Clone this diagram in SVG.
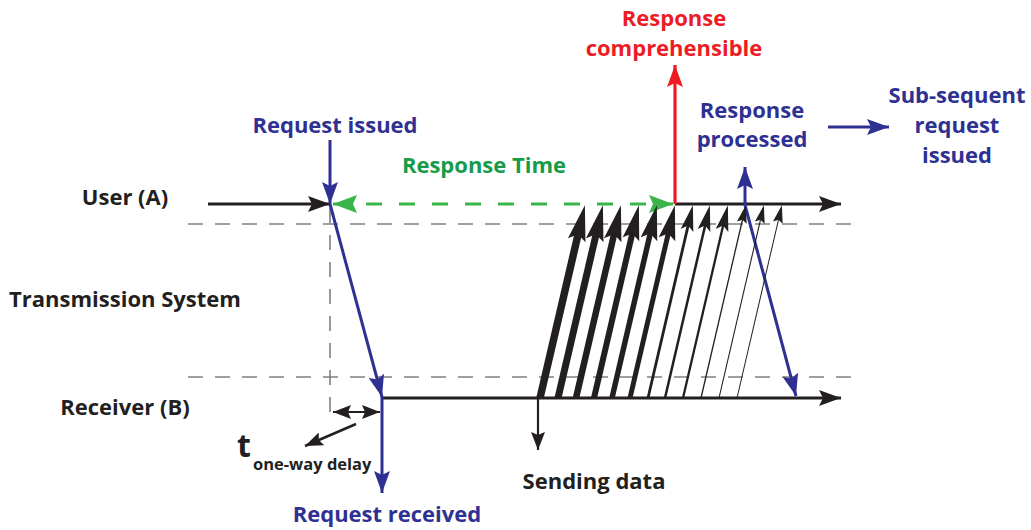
<svg xmlns="http://www.w3.org/2000/svg" width="1031" height="530" viewBox="0 0 1031 530">
<defs>
<style>
text{font-family:"Open Sans","Liberation Sans",sans-serif;font-weight:bold;}
.blk{fill:#231f20}
.blu{fill:#2e3192}
.red{fill:#ed1c24}
.grn{fill:#169b48}
.lb{stroke:#231f20;fill:none}
.lbl{stroke:#2e3192;fill:none;stroke-width:3}
.grey{stroke:#808080;stroke-width:1.6;stroke-dasharray:15 12;fill:none}
</style>
<marker id="ak" markerUnits="userSpaceOnUse" markerWidth="24" markerHeight="16" refX="22" refY="8" orient="auto"><path d="M0,0 L22,8 L0,16 L4,8 Z" fill="#231f20"/></marker>
<marker id="aks" markerUnits="userSpaceOnUse" markerWidth="20" markerHeight="14" refX="18" refY="7" orient="auto-start-reverse"><path d="M0,0 L18,7 L0,14 L3,7 Z" fill="#231f20"/></marker>
<marker id="ab" markerUnits="userSpaceOnUse" markerWidth="24" markerHeight="16" refX="22" refY="8" orient="auto"><path d="M0,0 L22,8 L0,16 L4,8 Z" fill="#2e3192"/></marker>
<marker id="ar" markerUnits="userSpaceOnUse" markerWidth="24" markerHeight="16" refX="22" refY="8" orient="auto"><path d="M0,0 L22,8 L0,16 L4,8 Z" fill="#ed1c24"/></marker>
<marker id="ag" markerUnits="userSpaceOnUse" markerWidth="26" markerHeight="18" refX="24" refY="9" orient="auto-start-reverse"><path d="M0,0 L24,9 L0,18 L4,9 Z" fill="#39b54a"/></marker>
</defs>
<rect width="1031" height="530" fill="#ffffff"/>

<g id="guides">
<line class="grey" x1="188" y1="224" x2="852" y2="224"/>
<line class="grey" x1="188" y1="377" x2="852" y2="377"/>
<line class="grey" x1="330" y1="208" x2="330" y2="418"/>
</g>

<g id="labels">
<text x="125" y="205" font-size="22" text-anchor="middle" class="blk">User (A)</text>
<text x="125" y="307" font-size="22" text-anchor="middle" class="blk">Transmission System</text>
<text x="125" y="415" font-size="22" text-anchor="middle" class="blk">Receiver (B)</text>
</g>

<g id="connectors">
<line class="lb" stroke-width="3" x1="208" y1="204" x2="330" y2="204" marker-end="url(#ak)"/>
<line class="lb" stroke-width="3" x1="675" y1="204" x2="841" y2="204" marker-end="url(#ak)"/>
<line class="lb" stroke-width="3" x1="382" y1="398" x2="841" y2="398" marker-end="url(#ak)"/>
<line stroke="#39b54a" stroke-width="3.2" stroke-dasharray="16 17" x1="333" y1="204" x2="673" y2="204" marker-start="url(#ag)" marker-end="url(#ag)"/>
<line stroke="#ed1c24" stroke-width="3.2" x1="675" y1="204" x2="675" y2="65" marker-end="url(#ar)"/>
<line class="lbl" x1="330" y1="140" x2="330" y2="204" marker-end="url(#ab)"/>
<line class="lbl" x1="330" y1="204" x2="382" y2="397" marker-end="url(#ab)"/>
<line class="lbl" x1="382" y1="397" x2="382" y2="493" marker-end="url(#ab)"/>
<line class="lbl" x1="745" y1="205" x2="796" y2="396" marker-end="url(#ab)"/>
<line class="lbl" x1="745" y1="205" x2="745" y2="167" marker-end="url(#ab)"/>
<line class="lbl" x1="828" y1="127" x2="889" y2="127" marker-end="url(#ab)"/>
<line class="lb" stroke-width="2" x1="333" y1="412" x2="380" y2="412" marker-start="url(#aks)" marker-end="url(#aks)"/>
<line class="lb" stroke-width="2.5" x1="356" y1="424" x2="305" y2="446" marker-end="url(#aks)"/>
<line class="lb" stroke-width="2.2" x1="538" y1="398" x2="538" y2="450" marker-end="url(#aks)"/>
</g>

<g id="fan">
<g transform="translate(540,398) rotate(13.1)"><line class="lb" stroke-width="7.5" x1="0" y1="0" x2="0" y2="-172"/><path d="M0,-198 L-9,-162 L0,-168 L9,-162 Z" class="blk"/></g>
<g transform="translate(558,398) rotate(13.1)"><line class="lb" stroke-width="7" x1="0" y1="0" x2="0" y2="-172"/><path d="M0,-198 L-9,-162 L0,-168 L9,-162 Z" class="blk"/></g>
<g transform="translate(576,398) rotate(13.1)"><line class="lb" stroke-width="6.5" x1="0" y1="0" x2="0" y2="-172"/><path d="M0,-198 L-9,-162 L0,-168 L9,-162 Z" class="blk"/></g>
<g transform="translate(594,398) rotate(13.1)"><line class="lb" stroke-width="6" x1="0" y1="0" x2="0" y2="-172"/><path d="M0,-198 L-8.5,-163 L0,-169 L8.5,-163 Z" class="blk"/></g>
<g transform="translate(612,398) rotate(13.1)"><line class="lb" stroke-width="5.5" x1="0" y1="0" x2="0" y2="-172"/><path d="M0,-198 L-8.5,-163 L0,-169 L8.5,-163 Z" class="blk"/></g>
<g transform="translate(630,398) rotate(13.1)"><line class="lb" stroke-width="5" x1="0" y1="0" x2="0" y2="-172"/><path d="M0,-198 L-8.5,-163 L0,-169 L8.5,-163 Z" class="blk"/></g>
<g transform="translate(648,398) rotate(13.1)"><line class="lb" stroke-width="2.8" x1="0" y1="0" x2="0" y2="-178"/><path d="M0,-198 L-6.5,-172 L0,-177 L6.5,-172 Z" class="blk"/></g>
<g transform="translate(665,398) rotate(13.1)"><line class="lb" stroke-width="2.5" x1="0" y1="0" x2="0" y2="-178"/><path d="M0,-198 L-6.5,-172 L0,-177 L6.5,-172 Z" class="blk"/></g>
<g transform="translate(683,398) rotate(13.1)"><line class="lb" stroke-width="2.3" x1="0" y1="0" x2="0" y2="-178"/><path d="M0,-198 L-6.5,-172 L0,-177 L6.5,-172 Z" class="blk"/></g>
<g transform="translate(701,398) rotate(13.1)"><line class="lb" stroke-width="1.3" x1="0" y1="0" x2="0" y2="-183"/><path d="M0,-198 L-5,-180 L0,-183 L5,-180 Z" class="blk"/></g>
<g transform="translate(719,398) rotate(13.1)"><line class="lb" stroke-width="1.1" x1="0" y1="0" x2="0" y2="-183"/><path d="M0,-198 L-5,-180 L0,-183 L5,-180 Z" class="blk"/></g>
<g transform="translate(737,398) rotate(13.1)"><line class="lb" stroke-width="1" x1="0" y1="0" x2="0" y2="-183"/><path d="M0,-198 L-5,-180 L0,-183 L5,-180 Z" class="blk"/></g>
</g>

<g id="request-issued"><text x="335" y="133" font-size="22" text-anchor="middle" class="blu">Request issued</text></g>
<g id="response-time"><text x="484" y="173" font-size="22" text-anchor="middle" class="grn">Response Time</text></g>
<g id="response-comprehensible"><text x="674" y="26" font-size="22" text-anchor="middle" class="red">Response</text><text x="674" y="56" font-size="22" text-anchor="middle" class="red">comprehensible</text></g>
<g id="response-processed"><text x="752" y="118" font-size="22" text-anchor="middle" class="blu">Response</text><text x="752" y="147" font-size="22" text-anchor="middle" class="blu">processed</text></g>
<g id="subsequent"><text x="957" y="103" font-size="22" text-anchor="middle" class="blu">Sub-sequent</text><text x="957" y="133" font-size="22" text-anchor="middle" class="blu">request</text><text x="957" y="163" font-size="22" text-anchor="middle" class="blu">issued</text></g>
<g id="request-received"><text x="387" y="522" font-size="22" text-anchor="middle" class="blu">Request received</text></g>
<g id="sending-data"><text x="594" y="489" font-size="22" text-anchor="middle" class="blk">Sending data</text></g>
<g id="one-way-delay"><text x="237" y="457" font-size="32" class="blk">t</text><text x="253" y="470" font-size="16.5" class="blk">one-way delay</text></g>
</svg>
